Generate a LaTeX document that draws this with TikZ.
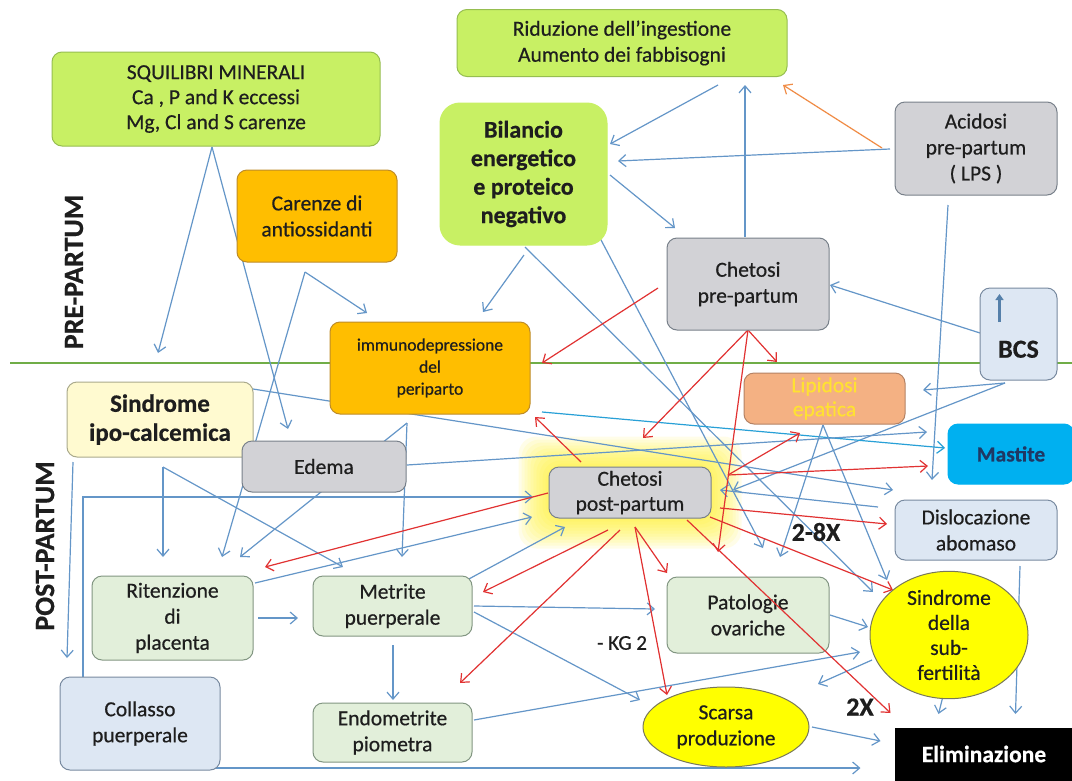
\documentclass[tikz,border=0pt]{standalone}
\usepackage{fontspec}
\setmainfont{Carlito}[FakeBold=0.5]
\usetikzlibrary{arrows.meta,calc,shapes.geometric}
\pgfdeclarelayer{back}
\pgfdeclarelayer{glow}
\pgfdeclarelayer{bg}
\pgfdeclarelayer{fg}
\pgfsetlayers{back,glow,bg,main,fg}
\definecolor{lime}{RGB}{200,240,100}
\definecolor{limeb}{RGB}{150,190,80}
\definecolor{orng}{RGB}{255,190,0}
\definecolor{orngb}{RGB}{190,140,40}
\definecolor{grayf}{RGB}{210,210,214}
\definecolor{grayb}{RGB}{120,128,138}
\definecolor{lblue}{RGB}{221,231,243}
\definecolor{lblueb}{RGB}{120,138,160}
\definecolor{pgreen}{RGB}{226,239,218}
\definecolor{pgreenb}{RGB}{130,150,130}
\definecolor{lyel}{RGB}{255,250,208}
\definecolor{lyelb}{RGB}{170,170,140}
\definecolor{salm}{RGB}{244,177,131}
\definecolor{salmb}{RGB}{180,130,100}
\definecolor{salmt}{RGB}{255,225,50}
\definecolor{mastf}{RGB}{0,176,240}
\definecolor{mastt}{RGB}{31,56,100}
\definecolor{yel}{RGB}{255,255,0}
\definecolor{yelb}{RGB}{120,120,90}
\definecolor{ablue}{RGB}{100,150,200}
\definecolor{acyan}{RGB}{40,160,215}
\definecolor{ared}{RGB}{225,50,50}
\definecolor{aorng}{RGB}{240,140,70}
\definecolor{gline}{RGB}{112,173,71}
\definecolor{txt}{RGB}{30,30,30}
\tikzset{
  box/.style={rounded corners=10pt, draw, line width=1pt, align=center, inner sep=2pt,
    text=txt, font=\fontsize{21.5}{26}\selectfont},
  oval/.style={ellipse, draw=yelb, fill=yel, line width=1pt, align=center, inner sep=0pt,
    text=txt, font=\fontsize{21.5}{25}\selectfont},
  arr/.style={-{Straight Barb[length=7pt,width=12pt]}, line width=1.2pt},
  barr/.style={arr, draw=ablue},
  rarr/.style={arr, draw=ared},
  lbl/.style={text=txt, font=\bfseries\fontsize{26}{30}\selectfont}
}
\begin{document}
\begin{tikzpicture}[x=1pt,y=-1pt]
\useasboundingbox (0,0) rectangle (1072,780);
\begin{pgfonlayer}{back}
\fill[white] (0,0) rectangle (1072,780);
\end{pgfonlayer}

% nodes
\node[box, fill=lime, draw=limeb, minimum width=330pt, minimum height=67pt] (ridu) at (622,43) {Riduzione dell’ingestione\\Aumento dei fabbisogni};
\node[box, fill=lime, draw=limeb, minimum width=328pt, minimum height=94pt, font=\fontsize{21.5}{25}\selectfont] (squi) at (216,99) {SQUILIBRI MINERALI\\Ca , P and K eccessi\\Mg, Cl and S carenze};
\node[box, fill=lime, draw=lime, rounded corners=20pt, minimum width=167pt, minimum height=142pt, font=\bfseries\fontsize{24}{28.5}\selectfont] (bil) at (523.5,174) {Bilancio\\energetico\\e proteico\\negativo};
\node[box, fill=orng, draw=orngb, minimum width=160pt, minimum height=92pt] (car) at (317,216) {Carenze di\\antiossidanti};
\node[box, fill=grayf, draw=grayb, minimum width=162pt, minimum height=93pt] (acid) at (976,148.5) {Acidosi\\pre-partum\\( LPS )};
\node[box, fill=grayf, draw=grayb, minimum width=162pt, minimum height=92pt] (chpre) at (748,284) {Chetosi\\pre-partum};
\node[box, fill=lblue, draw=lblueb, minimum width=77pt, minimum height=92pt, font=\bfseries\fontsize{26}{28}\selectfont] (bcs) at (1018.5,334) {\strut\\BCS};
\node[box, fill=orng, draw=orngb, minimum width=200pt, minimum height=92pt, font=\fontsize{17.5}{22}\selectfont] (immu) at (430,368) {immunodepressione\\del\\periparto};
\node[box, fill=lyel, draw=lyelb, minimum width=186pt, minimum height=75pt, font=\bfseries\fontsize{25}{29}\selectfont] (sipo) at (160,419.5) {Sindrome\\ipo-calcemica};
\node[box, fill=grayf, draw=grayb, minimum width=164pt, minimum height=51pt] (edema) at (324,466.5) {Edema};
\node[box, fill=salm, draw=salmb, minimum width=161pt, minimum height=51pt, text=salmt, font=\fontsize{21.5}{24}\selectfont] (lipi) at (824.5,398.5) {Lipidosi\\epatica};
\node[box, fill=mastf, draw=mastf, minimum width=126pt, minimum height=60pt, text=mastt, font=\bfseries\fontsize{21.5}{26}\selectfont] (mast) at (1011,454) {Mastite};
\node[box, fill=grayf, draw=grayb, minimum width=162pt, minimum height=51pt, font=\fontsize{21.5}{25}\selectfont] (chpost) at (630,492.5) {Chetosi\\post-partum};
\node[box, fill=lblue, draw=lblueb, minimum width=162pt, minimum height=60pt] (disl) at (976,530) {Dislocazione\\abomaso};
\node[box, fill=pgreen, draw=pgreenb, minimum width=161pt, minimum height=84pt] (rit) at (172.5,618) {Ritenzione\\di\\placenta};
\node[box, fill=pgreen, draw=pgreenb, minimum width=159pt, minimum height=60pt] (metr) at (392.5,606) {Metrite\\puerperale};
\node[box, fill=pgreen, draw=pgreenb, minimum width=162pt, minimum height=76pt] (pato) at (748,615) {Patologie\\ovariche};
\node[oval, minimum width=158pt, minimum height=110pt] (subf) at (949,635) {Sindrome\\della\\sub-\\fertilità};
\node[box, fill=lblue, draw=lblueb, minimum width=160pt, minimum height=93pt] (coll) at (140,723.5) {Collasso\\puerperale};
\node[box, fill=pgreen, draw=pgreenb, minimum width=159pt, minimum height=59pt] (endo) at (392.5,732.5) {Endometrite\\piometra};
\node[oval, minimum width=166pt, minimum height=80pt, font=\fontsize{21.5}{26}\selectfont] (scar) at (726,727) {Scarsa\\produzione};
\node[draw=black, fill=black, minimum width=178pt, minimum height=52pt, text=white, font=\bfseries\fontsize{23.5}{26}\selectfont] (elim) at (984,754) {Eliminazione};

\node[rotate=90, text=txt, font=\bfseries\fontsize{28}{30}\selectfont] (pre) at (74,272) {PRE-PARTUM};
\node[rotate=90, text=txt, font=\bfseries\fontsize{28}{30}\selectfont] (post) at (45,546) {POST-PARTUM};
\node[lbl] (l28) at (816,532) {2-8X};
\node[lbl] (l2x) at (860,707) {2X};
\node[text=txt, font=\fontsize{21}{24}\selectfont] (lkg) at (622,643) {- KG 2};

% BCS up arrow
\draw[line width=3pt, draw=ablue!85!black, -{Triangle[length=6pt,width=8pt]}] ($(bcs)+(-19,-12)$) -- ($(bcs)+(-19,-40)$);

\begin{pgfonlayer}{glow}
\foreach \i in {1,...,10} {
  \fill[yellow!85!white, opacity=0.1, rounded corners=18pt] ($(chpost.south west)+(-3*\i,3*\i)$) rectangle ($(chpost.north east)+(3*\i,-3*\i)$);
}
\end{pgfonlayer}

\begin{pgfonlayer}{bg}
\coordinate (gl0) at (10,363);
\coordinate (gl1) at (1072,363);
\draw[gline, line width=2.2pt] (gl0) -- (gl1);
% blue connectors
\draw[barr] ($(ridu)+(96,42)$) -- ($(bil)+(86.5,-30)$);
\draw[barr] ($(chpre)+(-3,-47)$) -- ($(ridu)+(123,42)$);
\draw[barr] ($(acid)+(-86,0.5)$) -- ($(bil)+(94.5,-13)$);
\draw[barr] ($(bil)+(86.5,1)$) -- ($(chpre)+(-73,-56)$);
\draw[barr] ($(bil)+(0.5,81)$) -- ($(immu)+(53,-56)$);
\draw[barr] ($(bil)+(76.5,64)$) -- ($(pato)+(15,-67)$);
\draw[barr] ($(bil)+(1.5,73)$) -- ($(subf)+(-76,-43)$);
\draw[barr] ($(squi)+(-4,48)$) -- ($(sipo)+(-2,-66.5)$);
\draw[barr] ($(squi)+(-4,48)$) -- ($(edema)+(-36,-37.5)$);
\draw[barr] ($(car)+(-12,56)$) -- ($(immu)+(-63,-55)$);
\draw[barr] ($(car)+(-12,56)$) -- ($(rit)+(49.5,-61)$);
\draw[barr] ($(bcs)+(-38.5,-1)$) -- ($(chpre)+(82,1)$);
\draw[barr] ($(bcs)+(-13.5,49)$) -- ($(lipi)+(98.5,-8.5)$);
\draw[barr] ($(bcs)+(-13.5,49)$) -- ($(chpost)+(103,-2.5)$);
\draw[barr] ($(acid)+(-28,56.5)$) -- ($(mast)+(-79,26)$);
\draw[arr, draw=acyan] ($(immu)+(112,44)$) -- ($(mast)+(-66,-6)$);
\draw[barr] ($(edema)+(83,-1.5)$) -- ($(mast)+(-84,-22)$);
\draw[barr] ($(sipo)+(93,-30.5)$) -- ($(disl)+(-83,-40)$);
\draw[barr] ($(immu)+(-23,55)$) -- ($(rit)+(67.5,-61)$);
\draw[barr] ($(immu)+(-23,55)$) -- ($(metr)+(9.5,-49)$);
\draw[barr] ($(sipo)+(-87,42.5)$) -- ($(coll)+(-73,-65.5)$);
\draw[barr] ($(sipo)+(3,47.5)$) -- ($(rit)+(-9.5,-61)$);
\draw[barr] ($(sipo)+(3,47.5)$) -- ($(metr)+(-49.5,-39)$);
\draw[barr] ($(coll)+(-57,-46.5)$) |- ($(chpost)+(-97,4.5)$);
\draw[barr] ($(rit)+(82.5,-35)$) -- ($(chpost)+(-98,24.5)$);
\draw[barr] ($(metr)+(74.5,-26)$) -- ($(chpost)+(-65,34.5)$);
\draw[barr] ($(rit)+(85.5,0)$) -- ($(metr)+(-94.5,12)$);
\draw[barr] ($(metr)+(81.5,0)$) -- ($(pato)+(-93,-6)$);
\draw[barr] ($(metr)+(81.5,6)$) -- ($(scar)+(-86,-27)$);
\draw[barr] ($(metr)+(0.5,39)$) -- ($(endo)+(0.5,-32.5)$);
\draw[barr] ($(endo)+(81.5,-12.5)$) -- ($(subf)+(-89,17)$);
\draw[barr] ($(lipi)+(-1.5,26.5)$) -- ($(pato)+(32,-58)$);
\draw[barr] ($(lipi)+(-1.5,26.5)$) -- ($(subf)+(-62,-55)$);
\draw[barr] ($(disl)+(-98,-23)$) -- ($(chpost)+(90,-2.5)$);
\draw[barr] ($(pato)+(82,0)$) -- ($(subf)+(-81,-8)$);
\draw[barr] ($(subf)+(-77,25)$) -- ($(scar)+(92,-43)$);
\draw[barr] ($(subf)+(-4,53)$) -- ($(elim)+(-45.5,-40)$);
\draw[barr] ($(disl)+(44,36)$) -- ($(elim)+(31.5,-40)$);
\draw[barr] ($(scar)+(86,0)$) -- ($(elim)+(-103.5,-13)$);
\draw[barr] ($(coll)+(73,44.5)$) -- ($(elim)+(-123.5,14)$);
% orange
\draw[arr, draw=aorng] ($(acid)+(-94,-0.5)$) -- ($(ridu)+(161,42)$);
% red connectors
\draw[rarr] ($(chpre)+(-90,4)$) -- ($(immu)+(112,-5)$);
\draw[rarr] ($(chpre)+(0,46)$) -- ($(lipi)+(-47.5,-36.5)$);
\draw[rarr] ($(chpre)+(0,46)$) -- ($(chpost)+(13,-54.5)$);
\draw[rarr] ($(chpre)+(0,46)$) -- ($(pato)+(-30,-63)$);
\draw[rarr] ($(chpost)+(-49,-30.5)$) -- ($(immu)+(105,49)$);
\draw[rarr] ($(chpost)+(98,-17.5)$) -- ($(lipi)+(-24.5,34.5)$);
\draw[rarr] ($(chpost)+(98,-17.5)$) -- ($(mast)+(-83,12)$);
\draw[rarr] ($(chpost)+(90,15.5)$) -- ($(disl)+(-89,-6)$);
\draw[rarr] ($(chpost)+(80,24.5)$) -- ($(subf)+(-56,-45)$);
\draw[rarr] ($(chpost)+(5,34.5)$) -- ($(pato)+(-81,-42)$);
\draw[rarr] ($(chpost)+(5,34.5)$) -- ($(scar)+(-59,-32)$);
\draw[rarr] ($(chpost)+(-82,0.5)$) -- ($(rit)+(92.5,-51)$);
\draw[rarr] ($(chpost)+(-22,37.5)$) -- ($(metr)+(90.5,-14)$);
\draw[rarr] ($(chpost)+(-10,37.5)$) -- ($(endo)+(67.5,-49.5)$);
\end{pgfonlayer}

\begin{pgfonlayer}{fg}
\draw[rarr] ($(chpost)+(57,27.5)$) -- ($(elim)+(-93.5,-41)$);
\end{pgfonlayer}
\end{tikzpicture}
\end{document}
